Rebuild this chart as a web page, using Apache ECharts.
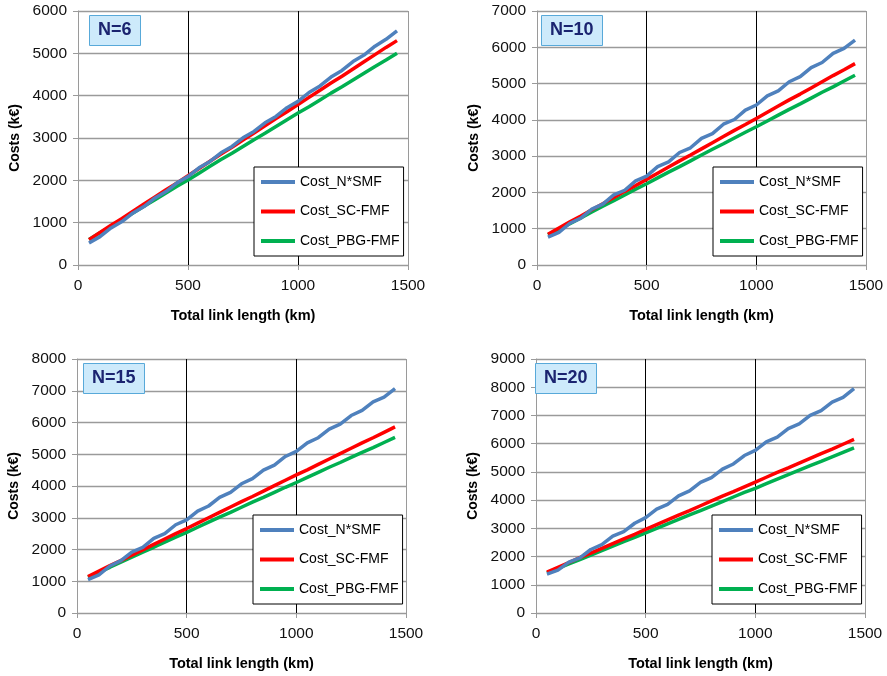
<!DOCTYPE html>
<html>
<head>
<meta charset="utf-8">
<script src="https://cdn.jsdelivr.net/npm/echarts@6/dist/echarts.min.js"></script>
<style>
  html, body { margin: 0; padding: 0; background: #fff; }
  #chart { width: 887px; height: 676px; }
</style>
</head>
<body>
<div id="chart"></div>
<script>
// total link length (km)
const lengths = [50, 100, 150, 200, 250, 300, 350, 400, 450, 500, 550, 600, 650, 700, 750,
  800, 850, 900, 950, 1000, 1050, 1100, 1150, 1200, 1250, 1300, 1350, 1400, 1450];

const seriesNames = ['Cost_N*SMF', 'Cost_SC-FMF', 'Cost_PBG-FMF'];
const panelLabels = ['N=6', 'N=10', 'N=15', 'N=20'];
const yMax = [6000, 7000, 8000, 9000];

// N=6
const smf6 = [520, 670, 875, 1025, 1230, 1380, 1585, 1735, 1940, 2090, 2295, 2445, 2650, 2800, 3005,
  3155, 3360, 3510, 3715, 3865, 4075, 4230, 4440, 4595, 4805, 4960, 5170, 5330, 5530];
const sc6 = [600, 770, 940, 1100, 1270, 1440, 1610, 1780, 1940, 2110, 2280, 2450, 2620, 2780, 2950,
  3120, 3290, 3460, 3620, 3790, 3960, 4130, 4300, 4460, 4630, 4800, 4970, 5140, 5300];
const pbg6 = [600, 760, 910, 1070, 1230, 1390, 1540, 1700, 1860, 2010, 2170, 2330, 2490, 2640, 2800,
  2960, 3110, 3270, 3430, 3590, 3740, 3900, 4060, 4210, 4370, 4530, 4690, 4840, 5000];

// N=10
const smf10 = [770, 900, 1150, 1290, 1540, 1680, 1930, 2060, 2320, 2450, 2710, 2840, 3100, 3230, 3490,
  3620, 3880, 4010, 4270, 4410, 4660, 4800, 5050, 5190, 5440, 5580, 5830, 5970, 6200];
const sc10 = [850, 1020, 1190, 1350, 1520, 1690, 1860, 2030, 2190, 2360, 2530, 2700, 2870, 3030, 3200,
  3370, 3540, 3710, 3870, 4040, 4210, 4380, 4550, 4710, 4880, 5050, 5220, 5380, 5550];
const pbg10 = [830, 990, 1140, 1300, 1460, 1620, 1770, 1930, 2090, 2240, 2400, 2560, 2710, 2870, 3030,
  3190, 3340, 3500, 3660, 3810, 3970, 4130, 4290, 4440, 4600, 4760, 4910, 5070, 5230];

// N=15
const smf15 = [1050, 1200, 1480, 1650, 1920, 2070, 2350, 2500, 2780, 2930, 3210, 3370, 3640, 3800, 4070,
  4230, 4500, 4660, 4930, 5090, 5360, 5520, 5790, 5950, 6220, 6380, 6650, 6800, 7070];
const sc15 = [1150, 1320, 1490, 1650, 1820, 1990, 2160, 2330, 2500, 2660, 2830, 3000, 3170, 3340, 3510,
  3670, 3840, 4010, 4180, 4350, 4510, 4680, 4850, 5020, 5190, 5360, 5520, 5690, 5860];
const pbg15 = [1130, 1290, 1440, 1600, 1760, 1920, 2070, 2230, 2390, 2540, 2700, 2860, 3020, 3170, 3330,
  3490, 3640, 3800, 3960, 4110, 4270, 4430, 4590, 4740, 4900, 5060, 5210, 5370, 5530];

// N=20
const smf20 = [1380, 1520, 1800, 1950, 2250, 2420, 2720, 2880, 3180, 3380, 3680, 3850, 4150, 4330, 4630,
  4800, 5100, 5280, 5580, 5760, 6060, 6230, 6530, 6700, 7000, 7170, 7470, 7640, 7950];
const sc20 = [1450, 1620, 1790, 1960, 2120, 2290, 2460, 2630, 2790, 2960, 3130, 3300, 3470, 3630, 3800,
  3970, 4140, 4300, 4470, 4640, 4810, 4980, 5140, 5310, 5480, 5650, 5810, 5980, 6150];
const pbg20 = [1420, 1580, 1740, 1890, 2050, 2210, 2370, 2530, 2680, 2840, 3000, 3160, 3320, 3480, 3630,
  3790, 3950, 4110, 4270, 4420, 4580, 4740, 4900, 5060, 5220, 5370, 5530, 5690, 5850];

const panelData = [
  [smf6, sc6, pbg6],
  [smf10, sc10, pbg10],
  [smf15, sc15, pbg15],
  [smf20, sc20, pbg20]
];

const colors = ['#4f81bd', '#ff0000', '#00b050'];
const font = 'Liberation Sans, Arial, sans-serif';

// plot area rectangles, one per panel
const boxes = [
  { left: 78, top: 11, width: 330, height: 254 },
  { left: 537, top: 11, width: 329, height: 254 },
  { left: 77, top: 359, width: 329, height: 254 },
  { left: 536, top: 359, width: 329, height: 254 }
];

const grid = [], xAxis = [], yAxis = [], series = [], legend = [], title = [];

boxes.forEach((b, i) => {
  grid.push({ left: b.left, top: b.top, width: b.width, height: b.height, containLabel: false });

  xAxis.push({
    type: 'value', gridIndex: i, min: 0, max: 1500, interval: 500,
    name: 'Total link length (km)', nameLocation: 'middle', nameGap: 43,
    nameTextStyle: { fontFamily: font, fontWeight: 'bold', fontSize: 14.5, color: '#000' },
    axisLine: { show: true, onZero: false, lineStyle: { color: '#9a9a9a', width: 1 } },
    axisTick: { show: true, inside: false, length: 5, lineStyle: { color: '#9a9a9a' } },
    axisLabel: { fontFamily: font, fontSize: 15.5, color: '#111', margin: 13, formatter: v => String(v) },
    splitLine: { show: true, lineStyle: { color: ['#9a9a9a', '#000', '#000', '#9a9a9a'], width: 1 } }
  });

  yAxis.push({
    type: 'value', gridIndex: i, min: 0, max: yMax[i], interval: 1000,
    name: 'Costs (k€)', nameLocation: 'middle', nameGap: 56, nameRotate: 90,
    nameTextStyle: { fontFamily: font, fontWeight: 'bold', fontSize: 14, color: '#000' },
    axisLine: { show: true, lineStyle: { color: '#9a9a9a', width: 1 } },
    axisTick: { show: true, inside: false, length: 5, lineStyle: { color: '#9a9a9a' } },
    axisLabel: { fontFamily: font, fontSize: 15.5, color: '#111', margin: 11, formatter: v => String(v) },
    splitLine: { show: true, lineStyle: { color: '#9a9a9a', width: 1.3 } }
  });

  panelData[i].forEach((vals, k) => {
    series.push({
      name: seriesNames[k], type: 'line', xAxisIndex: i, yAxisIndex: i,
      data: lengths.map((x, j) => [x, vals[j]]),
      showSymbol: false, symbol: 'none', smooth: false,
      lineStyle: { color: colors[k], width: 3.5 },
      itemStyle: { color: colors[k] },
      z: 3 + (2 - k)
    });
  });

  legend.push({
    orient: 'vertical',
    left: b.left + 176, top: b.top + 156,
    data: seriesNames,
    icon: 'rect', itemWidth: 34, itemHeight: 4, itemGap: 15.5,
    textStyle: { fontFamily: font, fontSize: 14, color: '#000', lineHeight: 14 },
    backgroundColor: '#fff', borderColor: '#000', borderWidth: 1,
    padding: [8, 4, 8, 7],
    selectedMode: false
  });

  title.push({
    text: panelLabels[i],
    left: b.left + (i % 2 === 0 ? 11 : 4) + (i >= 2 ? -5 : 0),
    top: b.top + 4,
    padding: [6, 9, 6, 9],
    backgroundColor: '#cdeafb', borderColor: '#58a9d9', borderWidth: 1,
    textStyle: { fontFamily: font, fontWeight: 'bold', fontSize: 18, color: '#1b2470', lineHeight: 19 }
  });
});

const chart = echarts.init(document.getElementById('chart'), null, { renderer: 'canvas' });
chart.setOption({
  animation: false,
  backgroundColor: '#fff',
  title, grid, xAxis, yAxis, legend, series
});
</script>
</body>
</html>
